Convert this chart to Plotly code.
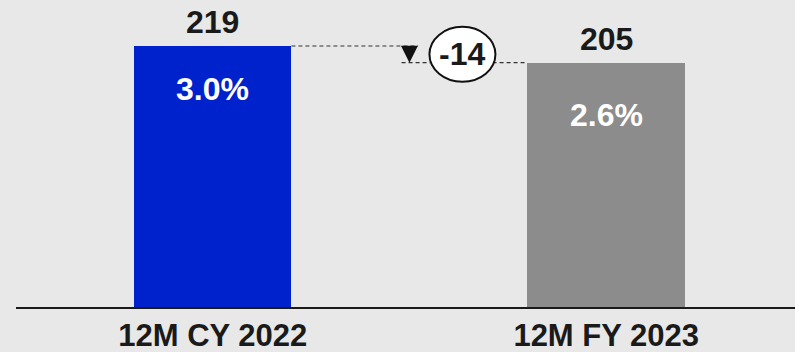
import plotly.graph_objects as go

categories = ["12M CY 2022", "12M FY 2023"]
values = [219, 205]
pct_labels = ["3.0%", "2.6%"]
delta_label = "-14"

bar_colors = ["#0022CC", "#8C8C8C"]
bar_width = 0.4
xs = list(range(len(categories)))

fig = go.Figure()
fig.add_trace(go.Bar(
    x=xs, y=values, width=bar_width,
    marker=dict(color=bar_colors, line=dict(width=0)),
    hoverinfo="skip", showlegend=False,
))

FONT = "Liberation Sans, Arial, sans-serif"
FS = 32
annotations = []
# value labels above bars
for x, v in zip(xs, values):
    annotations.append(dict(x=x, y=v, xref="x", yref="y", text=f"<b>{v}</b>",
                            showarrow=False, yanchor="bottom", yshift=4,
                            font=dict(family=FONT, size=FS, color="#1a1a1a")))
# percentage labels inside bars
pct_shift = [-43, -52]
for x, v, p, s in zip(xs, values, pct_labels, pct_shift):
    annotations.append(dict(x=x, y=v, xref="x", yref="y", text=f"<b>{p}</b>",
                            showarrow=False, yanchor="middle", yshift=s,
                            font=dict(family=FONT, size=FS, color="white")))

mid_x = (xs[0] + xs[1]) / 2
mid_y = (values[0] + values[1]) / 2
shapes = []
# dashed connectors
shapes.append(dict(type="line", xref="x", yref="y",
                   x0=xs[0] + bar_width / 2, x1=mid_x + 0.022, y0=values[0], y1=values[0],
                   line=dict(color="#333333", width=1.2, dash="4px,3px")))
shapes.append(dict(type="line", xref="x", yref="y",
                   x0=mid_x - 0.02, x1=xs[1] - bar_width / 2, y0=values[1], y1=values[1],
                   line=dict(color="#333333", width=1.2, dash="4px,3px")))
# triangle marker
shapes.append(dict(type="path", xref="x", yref="y", xsizemode="pixel", ysizemode="pixel",
                   xanchor=mid_x, yanchor=mid_y,
                   path="M-8.5,8.5 L8.5,8.5 L0,-8.5 Z",
                   fillcolor="#111111", line=dict(width=0)))
# ellipse
shapes.append(dict(type="circle", xref="x", yref="y", xsizemode="pixel", ysizemode="pixel",
                   xanchor=mid_x, yanchor=mid_y, x0=20, x1=86, y0=-27.5, y1=27.5,
                   fillcolor="white", line=dict(color="#111111", width=2)))
annotations.append(dict(x=mid_x, y=mid_y, xref="x", yref="y", text=f"<b>{delta_label}</b>",
                        showarrow=False, xshift=53, yanchor="middle",
                        font=dict(family=FONT, size=FS, color="#1a1a1a")))

fig.update_layout(
    width=795, height=352,
    margin=dict(l=16, r=0, t=0, b=45, autoexpand=False),
    paper_bgcolor="#E8E8E8", plot_bgcolor="#E8E8E8",
    bargap=0,
    shapes=shapes, annotations=annotations,
    xaxis=dict(range=[-0.5, 1.48], tickmode="array", tickvals=xs,
               ticktext=[f"<b>{c}</b>" for c in categories],
               tickfont=dict(family=FONT, size=31, color="#1a1a1a"),
               showline=True, linecolor="#1a1a1a", linewidth=1.5,
               showgrid=False, zeroline=False, ticks="", ticklen=0,
               automargin=False, fixedrange=True),
    yaxis=dict(range=[0, 257.6], visible=False, showgrid=False, zeroline=False,
               automargin=False, fixedrange=True),
)

fig.write_html("out.html", config={"displayModeBar": False})
